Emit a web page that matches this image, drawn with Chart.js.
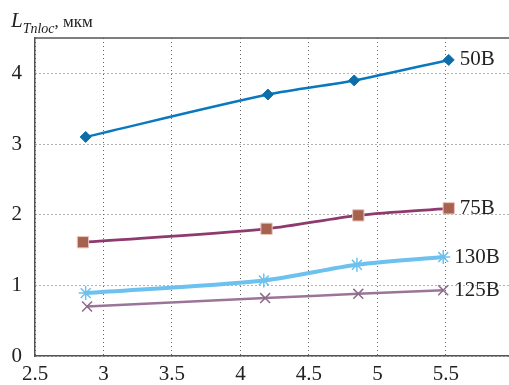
<!DOCTYPE html>
<html>
<head>
<meta charset="utf-8">
<script src="https://cdn.jsdelivr.net/npm/chart.js@4/dist/chart.umd.min.js"></script>
<style>
  html, body { margin: 0; padding: 0; background: #fff; overflow: hidden; }
  #wrap { width: 509px; height: 385px; position: relative; }
</style>
</head>
<body>
<div id="wrap"><canvas id="c" width="509" height="385"></canvas></div>
<script>
// Voltage series: x positions and L_Tnloc values (мкм)
const seriesNames = ['50В', '75В', '130В', '125В'];
const x50  = [2.87, 4.20, 4.83, 5.52];
const y50  = [3.10, 3.70, 3.90, 4.19];
const x75  = [2.85, 4.19, 4.86, 5.52];
const y75  = [1.61, 1.80, 1.99, 2.09];
const x130 = [2.87, 4.17, 4.85, 5.48];
const y130 = [0.89, 1.07, 1.29, 1.40];
const x125 = [2.88, 4.18, 4.86, 5.48];
const y125 = [0.70, 0.82, 0.88, 0.93];

const xTicks = [2.5, 3, 3.5, 4, 4.5, 5, 5.5];
const yTicks = [0, 1, 2, 3, 4];

const pts = (xs, ys) => xs.map((x, i) => ({ x: x, y: ys[i] }));

const serif = '"Liberation Serif", "Times New Roman", serif';

// Top frame line and the unit caption
const framePlugin = {
  id: 'frame',
  afterDraw(chart) {
    const { ctx, chartArea } = chart;
    ctx.save();
    ctx.strokeStyle = '#555';
    ctx.lineWidth = 1.5;
    ctx.beginPath();
    ctx.moveTo(chartArea.left, chartArea.top);
    ctx.lineTo(chartArea.right, chartArea.top);
    ctx.stroke();

    // axis caption: L_Tnloc, мкм
    ctx.fillStyle = '#222';
    ctx.textBaseline = 'alphabetic';
    let x = 11;
    ctx.font = 'italic 21px ' + serif;
    ctx.fillText('L', x, 27);
    x += ctx.measureText('L').width;
    ctx.font = 'italic 14px ' + serif;
    ctx.fillText('Tnloc', x, 33);
    x += ctx.measureText('Tnloc').width;
    ctx.font = '17px ' + serif;
    ctx.fillText(', мкм', x, 27);
    ctx.restore();
  }
};

// Series names placed after the last point of each line
const endLabels = {
  id: 'endLabels',
  afterDatasetsDraw(chart) {
    const { ctx } = chart;
    ctx.save();
    ctx.font = '21px ' + serif;
    ctx.fillStyle = '#222';
    ctx.textBaseline = 'middle';
    ctx.textAlign = 'left';
    chart.data.datasets.forEach((ds, i) => {
      const meta = chart.getDatasetMeta(i);
      const last = meta.data[meta.data.length - 1];
      ctx.fillText(ds.label, last.x + 11, last.y);
    });
    ctx.restore();
  }
};

new Chart(document.getElementById('c'), {
  type: 'line',
  data: {
    datasets: [
      {
        label: seriesNames[0], data: pts(x50, y50),
        borderColor: '#0a78be', borderWidth: 2.5,
        pointStyle: 'rectRot', pointRadius: 5.5,
        pointBackgroundColor: '#0b6ea8', pointBorderColor: '#0b6ea8', pointBorderWidth: 1,
        tension: 0.3
      },
      {
        label: seriesNames[1], data: pts(x75, y75),
        borderColor: '#8e3a6e', borderWidth: 2.8,
        pointStyle: 'rect', pointRadius: 8,
        pointBackgroundColor: '#a6624f', pointBorderColor: '#e8c7bc', pointBorderWidth: 1,
        tension: 0.3
      },
      {
        label: seriesNames[2], data: pts(x130, y130),
        borderColor: '#6cc1ee', borderWidth: 4,
        pointStyle: 'star', pointRadius: 7,
        pointBackgroundColor: '#6cc1ee', pointBorderColor: '#6cc1ee', pointBorderWidth: 1.5,
        tension: 0.3
      },
      {
        label: seriesNames[3], data: pts(x125, y125),
        borderColor: '#9b7598', borderWidth: 2.5,
        pointStyle: 'crossRot', pointRadius: 7,
        pointBackgroundColor: '#8c6a8a', pointBorderColor: '#8c6a8a', pointBorderWidth: 1.5,
        tension: 0.3
      }
    ]
  },
  options: {
    responsive: false,
    animation: false,
    devicePixelRatio: 1,
    layout: { autoPadding: false, padding: { top: 38, right: 0, left: 0, bottom: 0 } },
    plugins: { legend: { display: false }, tooltip: { enabled: false }, title: { display: false } },
    scales: {
      x: {
        type: 'linear',
        min: 2.5, max: 5.96,
        afterBuildTicks: (s) => { s.ticks = xTicks.map(v => ({ value: v })); },
        afterFit: (s) => { s.height = 29; s.paddingLeft = 0; s.paddingRight = 0; },
        ticks: {
          color: '#222', font: { family: serif, size: 21 }, padding: 6,
          maxRotation: 0, autoSkip: false,
          callback: (v) => String(v)
        },
        grid: { color: '#666', lineWidth: 1, drawTicks: false, tickLength: 0 },
        border: { display: true, color: '#555', width: 1.5, dash: [1, 3] }
      },
      y: {
        min: 0, max: 4.5,
        afterBuildTicks: (s) => { s.ticks = yTicks.map(v => ({ value: v })); },
        afterFit: (s) => { s.width = 35; s.paddingTop = 0; s.paddingBottom = 0; },
        ticks: {
          color: '#222', font: { family: serif, size: 21 }, padding: 13,
          callback: (v) => String(v)
        },
        grid: { color: '#666', lineWidth: 1, drawTicks: false, tickLength: 0 },
        border: { display: true, color: '#555', width: 1.5, dash: [1, 3] }
      }
    }
  },
  plugins: [framePlugin, endLabels]
});
</script>
</body>
</html>
